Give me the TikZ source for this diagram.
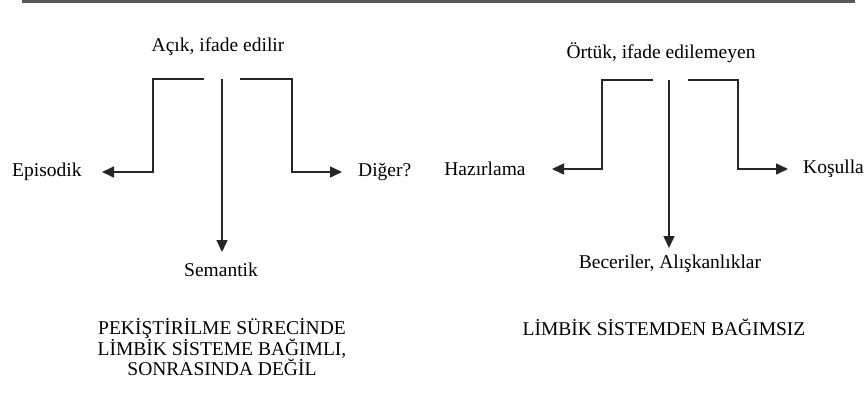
\documentclass[tikz,border=0pt]{standalone}
\usepackage{fontspec}
\setmainfont{Liberation Serif}
\usetikzlibrary{arrows.meta}
\begin{document}
\begin{tikzpicture}[x=1pt,y=-1pt,
  txt/.style={inner sep=0pt,font=\fontsize{19.5}{20}\selectfont},
  conn/.style={draw=black!85,line width=1.5pt,-{Triangle[length=12pt,width=11pt]}},
  rule/.style={draw=black!65,line width=2.5pt}]
\useasboundingbox (0,0) rectangle (867,394);
% top rule
\coordinate (r1) at (22,1.5);
\coordinate (r2) at (855,1.5);
\draw[rule] (r1) -- (r2);
% left tree
\node[txt] (acik) at (218,47) {Açık, ifade edilir};
\node[txt,anchor=west] (epi) at (12,172) {Episodik};
\node[txt,anchor=west] (dig) at (358,172) {Diğer?};
\node[txt] (sem) at (221,270) {Semantik};
\node[txt,align=center] (pek) at (222,347) {PEKİŞTİRİLME SÜRECİNDE\\LİMBİK SİSTEME BAĞIMLI,\\SONRASINDA DEĞİL};
\coordinate (la) at (204,79);
\coordinate (lb) at (153,79);
\coordinate (lc) at (153,172);
\coordinate (lt) at (102,172);
\coordinate (ra) at (240,79);
\coordinate (rb) at (292,79);
\coordinate (rc) at (292,172);
\coordinate (rt) at (342,172);
\coordinate (ma) at (222,79);
\coordinate (mt) at (222,252);
\draw[conn] (la) -- (lb) -- (lc) -- (lt);
\draw[conn] (ra) -- (rb) -- (rc) -- (rt);
\draw[conn] (ma) -- (mt);
% right tree
\node[txt] (ortuk) at (661,53) {Örtük, ifade edilemeyen};
\node[txt] (haz) at (485,169) {Hazırlama};
\node[txt,anchor=west] (kos) at (803,169) {Koşulla};
\node[txt] (bec) at (670,264) {Beceriler, Alışkanlıklar};
\node[txt] (lim) at (664,327) {LİMBİK SİSTEMDEN BAĞIMSIZ};
\coordinate (la2) at (653,80);
\coordinate (lb2) at (602,80);
\coordinate (lc2) at (602,169);
\coordinate (lt2) at (552,169);
\coordinate (ra2) at (688,80);
\coordinate (rb2) at (738,80);
\coordinate (rc2) at (738,169);
\coordinate (rt2) at (788,169);
\coordinate (ma2) at (669,80);
\coordinate (mt2) at (669,248);
\draw[conn] (la2) -- (lb2) -- (lc2) -- (lt2);
\draw[conn] (ra2) -- (rb2) -- (rc2) -- (rt2);
\draw[conn] (ma2) -- (mt2);
\end{tikzpicture}
\end{document}
